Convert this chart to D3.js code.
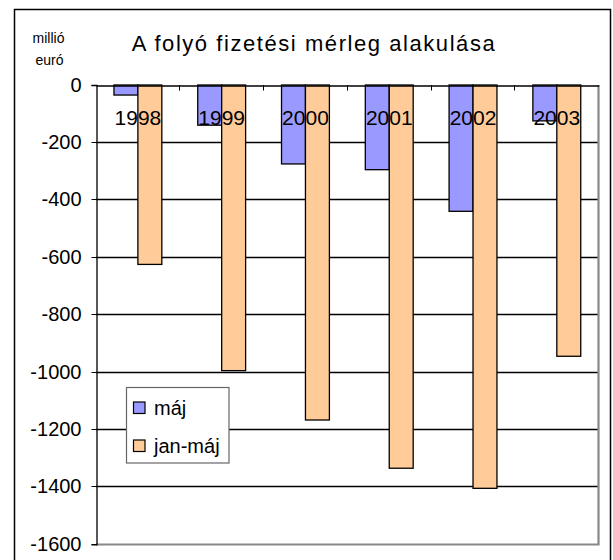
<!DOCTYPE html>
<html>
<head>
<meta charset="utf-8">
<script src="https://cdn.jsdelivr.net/npm/d3@7/dist/d3.min.js"></script>
<style>
  html, body { margin: 0; padding: 0; background: #fff; }
  svg { display: block; font-family: "Liberation Sans", Arial, sans-serif; }
</style>
</head>
<body>
<svg id="chart" width="613" height="560"></svg>
<script>
const categories = ["1998", "1999", "2000", "2001", "2002", "2003"];
const seriesNames = ["máj", "jan-máj"];
const majValues = [-35, -140, -275, -295, -440, -125];
const janMajValues = [-625, -995, -1167, -1335, -1405, -945];
const yTicks = [0, -200, -400, -600, -800, -1000, -1200, -1400, -1600];
const seriesColors = ["#9999FF", "#FFCC99"];
const titleText = "A folyó fizetési mérleg alakulása";
const unitLines = ["millió", "euró"];

const series = [majValues, janMajValues];
const crisp = v => Math.round(v - 0.5) + 0.5;

const svg = d3.select("#chart");

const plot = { left: 96, right: 598.7, top: 85, bottom: 544.3 };

const y = d3.scaleLinear().domain([-1600, 0]).range([plot.bottom, plot.top]);
const x = d3.scaleBand().domain(categories).range([plot.left, plot.right]).paddingInner(0).paddingOuter(0);
const step = x.bandwidth();
const barW = step / 3.5; // Excel gap width 150%
const xs = d3.scaleBand().domain(seriesNames).range([0, 2 * barW]);

// outer chart border (stroke only)
svg.append("rect")
  .attr("x", 14.5).attr("y", 9.5)
  .attr("width", 596).attr("height", 580)
  .attr("fill", "none").attr("stroke", "#000").attr("stroke-width", 1.5);

// gridlines via axis
const gridAxis = d3.axisLeft(y).tickValues(yTicks.slice(1, -1)).tickSize(-(plot.right - plot.left)).tickFormat("");
const gg = svg.append("g").attr("class", "gridlines").attr("transform", `translate(${plot.left},0)`).call(gridAxis);
gg.select(".domain").remove();
gg.selectAll(".tick").attr("transform", d => `translate(0,${crisp(y(d))})`);
gg.selectAll(".tick line").attr("stroke", "#000").attr("stroke-width", 1.4);

// plot area right & bottom border (gray)
svg.append("path")
  .attr("d", `M${crisp(plot.right)},${plot.top}V${crisp(plot.bottom)}H${plot.left}`)
  .attr("fill", "none").attr("stroke", "#888").attr("stroke-width", 2.2);

// bars
seriesNames.forEach((name, si) => {
  svg.append("g").selectAll("rect")
    .data(categories.map((c, i) => ({ c, v: series[si][i] })))
    .join("rect")
    .attr("x", d => x(d.c) + step / 2 - barW + xs(name))
    .attr("y", d => y(0))
    .attr("width", xs.bandwidth())
    .attr("height", d => y(d.v) - y(0))
    .attr("fill", seriesColors[si])
    .attr("stroke", "#000").attr("stroke-width", 1.3);
});

// category labels (drawn over the bars)
svg.append("g").selectAll("text")
  .data(categories)
  .join("text")
  .attr("x", d => x(d) + step / 2)
  .attr("y", 125)
  .attr("text-anchor", "middle")
  .attr("font-size", 21)
  .attr("fill", "#000")
  .text(d => d);

// y axis
const yAxis = d3.axisLeft(y).tickValues(yTicks).tickSize(5).tickPadding(10).tickFormat(d => String(d).replace("−", "-"));
const gy = svg.append("g").attr("transform", `translate(${crisp(plot.left)},0)`).call(yAxis);
gy.select(".domain").attr("stroke", "#000").attr("stroke-width", 1.3);
gy.selectAll(".tick").attr("transform", d => `translate(0,${crisp(y(d))})`);
gy.selectAll(".tick line").attr("stroke", "#000").attr("stroke-width", 1);
gy.selectAll(".tick text").attr("font-size", 20).attr("fill", "#000")
  .attr("font-family", "'Liberation Sans', Arial, sans-serif");

// zero (category) axis at top with downward ticks at category boundaries
const xAxis = d3.axisBottom(x).tickSize(0).tickSizeOuter(0).tickFormat("");
const gx = svg.append("g").attr("transform", `translate(0,${crisp(y(0))})`).call(xAxis);
gx.select(".domain").attr("stroke", "#000").attr("stroke-width", 1.3);
svg.append("g").selectAll("line")
  .data(categories.slice(1))
  .join("line")
  .attr("x1", d => crisp(x(d))).attr("x2", d => crisp(x(d)))
  .attr("y1", y(0)).attr("y2", y(0) + 5.5)
  .attr("stroke", "#000").attr("stroke-width", 1);

// title
svg.append("text")
  .attr("x", 131.7).attr("y", 51)
  .attr("font-size", 22)
  .attr("textLength", 363).attr("lengthAdjust", "spacing")
  .attr("fill", "#000")
  .text(titleText);

// unit label
svg.append("text").attr("x", 48.5).attr("y", 43).attr("text-anchor", "middle")
  .attr("font-size", 14).attr("fill", "#000").text(unitLines[0]);
svg.append("text").attr("x", 49.5).attr("y", 65).attr("text-anchor", "middle")
  .attr("font-size", 14).attr("fill", "#000").text(unitLines[1]);

// legend
const lg = svg.append("g");
lg.append("rect")
  .attr("x", 126.5).attr("y", 387.5).attr("width", 102.5).attr("height", 75.5)
  .attr("fill", "#fff").attr("stroke", "#666").attr("stroke-width", 1.2);
const legendY = [408, 446];
seriesNames.forEach((name, i) => {
  lg.append("rect")
    .attr("x", 133.5).attr("y", legendY[i] - 6)
    .attr("width", 11.5).attr("height", 11.5)
    .attr("fill", seriesColors[i]).attr("stroke", "#000").attr("stroke-width", 1.2);
  lg.append("text")
    .attr("x", 154).attr("y", legendY[i] + 7)
    .attr("font-size", 20).attr("fill", "#000")
    .text(name);
});
</script>
</body>
</html>
